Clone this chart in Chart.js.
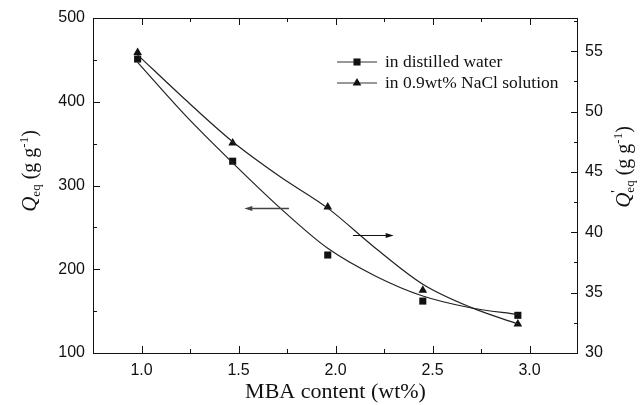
<!DOCTYPE html>
<html>
<head>
<meta charset="utf-8">
<script src="https://cdn.jsdelivr.net/npm/chart.js@4.4.0/dist/chart.umd.min.js"></script>
<style>
  html, body { margin: 0; padding: 0; background: #fff; }
  #wrap { width: 643px; height: 405px; }
</style>
</head>
<body>
<div id="wrap"><canvas id="chart" width="643" height="405"></canvas></div>
<script>
// measured points
const mbaContent = [0.98, 1.47, 1.96, 2.45, 2.94];
const qWater = [451, 329, 217, 162, 145];
const qSaline = [54.9, 47.4, 42.1, 35.2, 32.4];

// fitted curves
const fitX = [0.98, 1.225, 1.47, 1.715, 1.96, 2.205, 2.45, 2.695, 2.94];
const fitWater = [447, 384, 327, 273, 225, 192, 168, 154, 146];
const fitSaline = [54.7, 51.0, 47.5, 44.6, 42.0, 38.7, 35.7, 33.8, 32.4];

// tick labels
const xTicks = [1.0, 1.5, 2.0, 2.5, 3.0];
const xMinor = [1.25, 1.75, 2.25, 2.75];
const leftTicks = [100, 200, 300, 400, 500];
const leftMinor = [150, 250, 350, 450];
const rightTicks = [30, 35, 40, 45, 50, 55];
const rightMinor = [32.5, 37.5, 42.5, 47.5, 52.5, 57.5];

// arrows telling which axis each curve belongs to (data units)
const arrowLeft = { from: 1.76, to: 1.53, y: 273, axis: "y" };
const arrowRight = { from: 2.09, to: 2.30, y: 39.8, axis: "y1" };

const sans = "'Liberation Sans', Arial, sans-serif";
const serif = "'Liberation Serif', 'Times New Roman', serif";
const ink = "#111";

function pts(xs, ys) {
  return xs.map((x, i) => ({ x: x, y: ys[i] }));
}

const framePlugin = {
  id: "frame",
  afterDatasetsDraw(chart) {
    const { ctx, chartArea: a, scales } = chart;
    ctx.save();
    ctx.strokeStyle = ink;
    ctx.lineWidth = 1;
    ctx.strokeRect(a.left + 0.5, a.top + 0.5, a.right - a.left - 1, a.bottom - a.top);

    ctx.beginPath();
    const xs = scales.x, yl = scales.y, yr = scales.y1;
    const tickX = (vals, len) => vals.forEach(v => {
      const px = Math.round(xs.getPixelForValue(v)) + 0.5;
      ctx.moveTo(px, a.bottom); ctx.lineTo(px, a.bottom - len);
      ctx.moveTo(px, a.top); ctx.lineTo(px, a.top + len);
    });
    tickX(xTicks, 7);
    tickX(xMinor, 4);
    const tickL = (vals, len) => vals.forEach(v => {
      const py = Math.round(yl.getPixelForValue(v)) + 0.5;
      ctx.moveTo(a.left, py); ctx.lineTo(a.left + len, py);
    });
    tickL(leftTicks, 7);
    tickL(leftMinor, 4);
    const tickR = (vals, len) => vals.forEach(v => {
      const py = Math.round(yr.getPixelForValue(v)) + 0.5;
      ctx.moveTo(a.right, py); ctx.lineTo(a.right - len, py);
    });
    tickR(rightTicks, 7);
    tickR(rightMinor, 4);
    ctx.stroke();

    // arrows
    const drawArrow = (ar, color, w) => {
      const ys = scales[ar.axis];
      const x1 = xs.getPixelForValue(ar.from);
      const x2 = xs.getPixelForValue(ar.to);
      const y = Math.round(ys.getPixelForValue(ar.y)) + 0.5;
      const dir = x2 > x1 ? 1 : -1;
      ctx.strokeStyle = color;
      ctx.fillStyle = color;
      ctx.lineWidth = w;
      ctx.beginPath();
      ctx.moveTo(x1, y); ctx.lineTo(x2 - dir * 6, y);
      ctx.stroke();
      ctx.beginPath();
      ctx.moveTo(x2, y);
      ctx.lineTo(x2 - dir * 8, y - 2.5);
      ctx.lineTo(x2 - dir * 8, y + 2.5);
      ctx.closePath();
      ctx.fill();
    };
    drawArrow(arrowLeft, "#444", 1.6);
    drawArrow(arrowRight, ink, 1.1);

    // legend
    const rows = [
      { label: "in distilled water", style: "rect", y: a.top + 44 },
      { label: "in 0.9wt% NaCl solution", style: "triangle", y: a.top + 65 }
    ];
    rows.forEach(r => {
      ctx.strokeStyle = "#333";
      ctx.lineWidth = 1.2;
      ctx.beginPath();
      ctx.moveTo(337, r.y); ctx.lineTo(377, r.y);
      ctx.stroke();
      ctx.fillStyle = ink;
      Chart.helpers.drawPoint(ctx, { pointStyle: r.style, radius: 5, borderWidth: 0 }, 357, r.y);
      ctx.save();
      ctx.translate(385, r.y + 1);
      ctx.scale(1.09, 1);
      ctx.fillStyle = ink;
      ctx.font = "16px " + serif;
      ctx.textBaseline = "middle";
      ctx.textAlign = "left";
      ctx.fillText(r.label, 0, 0);
      ctx.restore();
    });

    // axis titles
    ctx.fillStyle = ink;
    ctx.textAlign = "center";
    ctx.textBaseline = "alphabetic";
    ctx.font = "22px " + serif;
    ctx.fillText("MBA content (wt%)", (a.left + a.right) / 2, 398);

    drawRotated(ctx, 36, 171, [
      { t: "Q", f: "italic 21px " + serif, dy: 0 },
      { t: "eq", f: "13px " + serif, dy: 4 },
      { t: " (g g", f: "20px " + serif, dy: 0 },
      { t: "-1", f: "13px " + serif, dy: -8 },
      { t: ")", f: "20px " + serif, dy: 0 }
    ]);
    drawRotated(ctx, 630, 167, [
      { t: "Q", f: "italic 21px " + serif, dy: 0 },
      { t: "'", f: "14px " + serif, dy: -9, stack: true },
      { t: "eq", f: "13px " + serif, dy: 4 },
      { t: " (g g", f: "20px " + serif, dy: 0 },
      { t: "-1", f: "13px " + serif, dy: -8 },
      { t: ")", f: "20px " + serif, dy: 0 }
    ]);
    ctx.restore();
  }
};

function drawRotated(ctx, bx, cy, parts) {
  let total = 0;
  parts.forEach(p => {
    ctx.font = p.f;
    if (!p.stack) total += ctx.measureText(p.t).width;
  });
  ctx.save();
  ctx.translate(bx, cy);
  ctx.rotate(-Math.PI / 2);
  ctx.textAlign = "left";
  ctx.textBaseline = "alphabetic";
  let x = -total / 2;
  parts.forEach(p => {
    ctx.font = p.f;
    ctx.fillText(p.t, x, p.dy);
    if (!p.stack) x += ctx.measureText(p.t).width;
  });
  ctx.restore();
}

const tickFont = { family: sans, size: 16 };

new Chart(document.getElementById("chart"), {
  type: "scatter",
  data: {
    datasets: [
      {
        label: "fit water", data: pts(fitX, fitWater), yAxisID: "y",
        showLine: true, pointRadius: 0, borderColor: "#222", borderWidth: 1.2,
        cubicInterpolationMode: "monotone"
      },
      {
        label: "fit saline", data: pts(fitX, fitSaline), yAxisID: "y1",
        showLine: true, pointRadius: 0, borderColor: "#222", borderWidth: 1.2,
        cubicInterpolationMode: "monotone"
      },
      {
        label: "in distilled water", data: pts(mbaContent, qWater), yAxisID: "y",
        pointStyle: "rect", pointRadius: 5, backgroundColor: ink, borderColor: ink, borderWidth: 0
      },
      {
        label: "in 0.9wt% NaCl solution", data: pts(mbaContent, qSaline), yAxisID: "y1",
        pointStyle: "triangle", pointRadius: 5, backgroundColor: ink, borderColor: ink, borderWidth: 0
      }
    ]
  },
  options: {
    responsive: false,
    animation: false,
    layout: { padding: { top: 18, left: 0, right: 0, bottom: 0 } },
    plugins: { legend: { display: false }, tooltip: { enabled: false } },
    scales: {
      x: {
        type: "linear", min: 0.75, max: 3.25,
        afterBuildTicks: s => { s.ticks = xTicks.map(v => ({ value: v })); },
        afterFit: s => { s.height = 52; },
        grid: { display: false, drawTicks: false },
        border: { display: false },
        ticks: { font: tickFont, color: ink, padding: 8, maxRotation: 0, callback: v => v.toFixed(1) }
      },
      y: {
        position: "left", min: 100, max: 500,
        afterBuildTicks: s => { s.ticks = leftTicks.map(v => ({ value: v })); },
        afterFit: s => { s.width = 93; },
        grid: { display: false, drawTicks: false },
        border: { display: false },
        ticks: { font: tickFont, color: ink, padding: 8 }
      },
      y1: {
        position: "right", min: 30, max: 57.75,
        afterBuildTicks: s => { s.ticks = rightTicks.map(v => ({ value: v })); },
        afterFit: s => { s.width = 65; },
        grid: { display: false, drawTicks: false },
        border: { display: false },
        ticks: { font: tickFont, color: ink, padding: 7 }
      }
    }
  },
  plugins: [framePlugin]
});
</script>
</body>
</html>
